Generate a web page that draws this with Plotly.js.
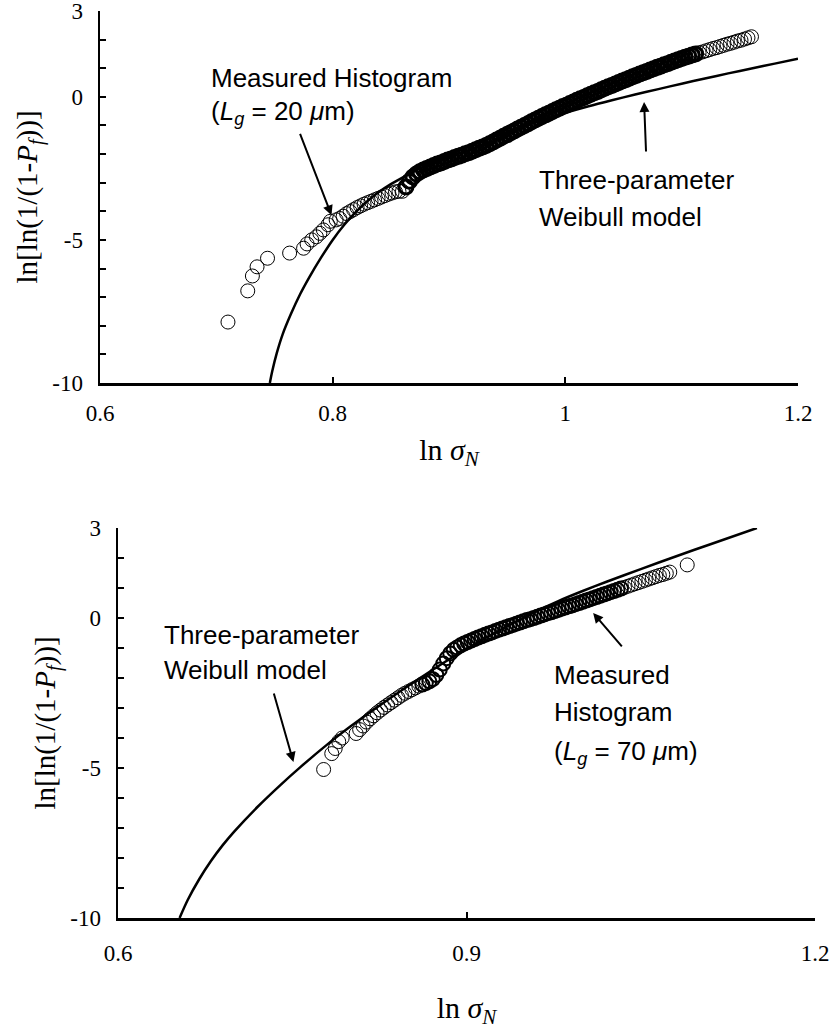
<!DOCTYPE html>
<html>
<head>
<meta charset="utf-8">
<script src="https://cdn.plot.ly/plotly-3.0.1.min.js"></script>
<style>html,body{margin:0;padding:0;background:#fff;}#chart{width:833px;height:1032px;}</style>
</head>
<body>
<div id="chart"></div>
<script>
// ---------- Top panel (Lg = 20 um) ----------
const topMeasuredX = [0.710,0.727,0.731,0.735,0.744,0.763,0.775,0.778,0.782,0.786,0.789,0.792,0.796,0.798,0.803,0.806,0.809,
0.812,0.815,0.818,0.821,0.824,0.827,0.830,0.833,0.836,0.839,0.842,0.845,0.848,0.851,0.854,0.857,0.860,0.863,0.866,0.869,
0.872,0.875,0.878,0.881,0.884,0.887,0.890,0.893,0.896,0.899,0.902,0.905,0.908,0.911,0.914,0.917,0.920,0.923,0.926,0.929,
0.932,0.935,0.938,0.941,0.944,0.947,0.950,0.953,0.956,0.959,0.962,0.965,0.968,0.971,0.974,0.977,0.980,0.983,0.986,0.989,
0.992,0.995,0.998,1.001,1.004,1.007,1.010,1.013,1.016,1.019,1.022,1.025,1.028,1.031,1.034,1.037,1.040,1.043,1.046,1.049,
1.052,1.055,1.058,1.061,1.064,1.067,1.070,1.073,1.076,1.079,1.082,1.085,1.088,1.091,1.094,1.097,1.100,1.103,1.106,1.109,
1.112,1.115,1.118,1.121,1.124,1.127,1.130,1.133,1.136,1.139,1.142,1.145,1.148,1.151,1.154,1.157,1.160];
const topMeasuredY = [-7.87,-6.78,-6.26,-5.94,-5.64,-5.46,-5.29,-5.14,-5.00,-4.89,-4.77,-4.65,-4.47,-4.35,-4.30,-4.25,-4.17,
-4.08,-4.01,-3.94,-3.87,-3.81,-3.75,-3.70,-3.65,-3.60,-3.55,-3.50,-3.45,-3.40,-3.36,-3.32,-3.30,-3.30,-3.15,-2.95,-2.80,
-2.70,-2.62,-2.56,-2.50,-2.45,-2.40,-2.35,-2.31,-2.26,-2.21,-2.17,-2.12,-2.08,-2.04,-1.99,-1.95,-1.90,-1.85,-1.80,-1.75,
-1.70,-1.64,-1.58,-1.51,-1.45,-1.38,-1.32,-1.25,-1.19,-1.12,-1.06,-1.00,-0.94,-0.87,-0.81,-0.75,-0.69,-0.63,-0.57,-0.51,
-0.45,-0.40,-0.34,-0.29,-0.23,-0.18,-0.12,-0.07,-0.02,0.04,0.09,0.14,0.19,0.25,0.30,0.35,0.40,0.45,0.50,0.55,
0.60,0.65,0.70,0.75,0.80,0.84,0.89,0.94,0.98,1.03,1.07,1.12,1.16,1.21,1.25,1.30,1.34,1.38,1.42,1.46,
1.50,1.54,1.57,1.61,1.65,1.69,1.72,1.76,1.80,1.84,1.87,1.91,1.95,1.98,2.02,2.06,2.10];
const topModelX = [0.746,0.748,0.752,0.757,0.764,0.772,0.780,0.790,0.800,0.810,0.820,0.830,0.840,0.850,0.860,0.880,0.900,
0.920,0.940,0.960,0.980,1.000,1.020,1.040,1.060,1.080,1.100,1.120,1.140,1.160,1.180,1.200];
const topModelY = [-10,-9.6,-8.95,-8.3,-7.6,-6.9,-6.3,-5.62,-5.0,-4.47,-4.02,-3.64,-3.32,-3.05,-2.82,-2.4,-2.02,
-1.68,-1.37,-1.08,-0.81,-0.56,-0.33,-0.12,0.08,0.27,0.46,0.64,0.82,0.99,1.16,1.33];
const topXTickVals = [0.6,0.8,1.0,1.2];
const topXTickText = ['0.6','0.8','1','1.2'];

// ---------- Bottom panel (Lg = 70 um) ----------
const botMeasuredX = [0.777,0.784,0.787,0.790,0.793,0.805,0.808,0.811,0.814,0.817,0.820,0.823,
0.826,0.829,0.832,0.835,0.838,0.841,0.844,0.847,0.850,0.853,0.856,0.859,0.862,0.865,0.868,0.871,0.874,0.877,0.880,0.883,
0.886,0.889,0.892,0.895,0.898,0.901,0.904,0.907,0.910,0.913,0.916,0.919,0.922,0.925,0.928,0.931,0.934,0.937,0.940,0.943,
0.946,0.949,0.952,0.955,0.958,0.961,0.964,0.967,0.970,0.973,0.976,0.979,0.982,0.985,0.988,0.991,0.994,0.997,1.000,1.003,
1.006,1.009,1.012,1.015,1.018,1.021,1.024,1.027,1.030,1.033,1.036,1.039,1.042,1.045,1.048,1.051,1.054,1.057,1.060,1.063,
1.066,1.069,1.072,1.075,1.090];
const botMeasuredY = [-5.05,-4.52,-4.35,-4.12,-4.00,-3.85,-3.72,-3.60,-3.47,-3.36,-3.26,-3.16,
-3.07,-2.98,-2.90,-2.82,-2.74,-2.66,-2.58,-2.51,-2.45,-2.39,-2.33,-2.27,-2.22,-2.17,-2.11,-2.04,-1.90,-1.72,-1.52,-1.34,
-1.18,-1.06,-0.98,-0.91,-0.85,-0.80,-0.75,-0.70,-0.65,-0.61,-0.56,-0.52,-0.48,-0.43,-0.39,-0.35,-0.31,-0.27,-0.23,-0.19,
-0.15,-0.11,-0.07,-0.04,0.00,0.04,0.08,0.12,0.16,0.19,0.23,0.27,0.31,0.35,0.39,0.42,0.46,0.50,0.54,0.58,
0.62,0.66,0.70,0.74,0.78,0.82,0.86,0.90,0.94,0.98,1.02,1.06,1.10,1.14,1.18,1.22,1.26,1.30,1.34,1.38,
1.42,1.45,1.49,1.53,1.77];
const botModelX = [0.653,0.660,0.670,0.680,0.690,0.700,0.720,0.740,0.757,0.780,0.800,0.820,0.850,0.880,0.900,0.930,0.960,
0.980,1.000,1.020,1.050,1.080,1.110,1.150];
const botModelY = [-10,-9.4,-8.7,-8.1,-7.58,-7.12,-6.3,-5.56,-4.97,-4.22,-3.62,-3.06,-2.26,-1.5,-1.03,-0.38,0.22,
0.58,0.9,1.2,1.63,2.05,2.46,3.0];
const botXTickVals = [0.6,0.9,1.2];
const botXTickText = ['0.6','0.9','1.2'];

// ---------- Shared y ticks ----------
const yTickVals = [-10,-5,0,3];
const yTickText = ['-10','-5','0','3'];

const serif = 'Liberation Serif, Times New Roman, serif';
const sans = 'Liberation Sans, Arial, sans-serif';

// ring stroke: heavier where the measured points crowd into a solid band
function ringWidths(xs, lo, hi, heavy) {
  return xs.map(v => (v >= lo && v <= hi) ? heavy : 1);
}
function markerStyle(widths) {
  return {symbol: 'circle-open', size: 14, color: '#000', line: {width: widths, color: '#000'}};
}
const lineStyle = {color: '#000', width: 2.5, shape: 'spline', smoothing: 0.8};

const traces = [
  {x: topMeasuredX, y: topMeasuredY, xaxis: 'x', yaxis: 'y', mode: 'markers', type: 'scatter',
   marker: markerStyle(ringWidths(topMeasuredX, 0.862, 1.113, 3)), name: 'Measured Histogram (Lg = 20 μm)'},
  {x: topModelX, y: topModelY, xaxis: 'x', yaxis: 'y', mode: 'lines', type: 'scatter', line: lineStyle, name: 'Three-parameter Weibull model'},
  {x: botMeasuredX, y: botMeasuredY, xaxis: 'x2', yaxis: 'y2', mode: 'markers', type: 'scatter',
   marker: markerStyle(ringWidths(botMeasuredX, 0.86, 1.035, 2)), name: 'Measured Histogram (Lg = 70 μm)'},
  {x: botModelX, y: botModelY, xaxis: 'x2', yaxis: 'y2', mode: 'lines', type: 'scatter', line: lineStyle, name: 'Three-parameter Weibull model'}
];

function xAxis(domain, anchor, vals, text, standoff, titleStandoff) {
  return {
    domain: domain, anchor: anchor, range: [0.6, 1.2],
    showline: true, linecolor: '#000', linewidth: 2.5, mirror: false,
    showgrid: false, zeroline: false,
    ticks: 'inside', ticklen: 6, tickwidth: 2, tickcolor: '#000',
    tickvals: vals, ticktext: text, ticklabelstandoff: standoff, ticklabeloverflow: 'allow',
    tickfont: {family: serif, size: 23, color: '#000'},
    title: {text: 'ln <i>σ</i><sub><i>N</i></sub>', font: {family: serif, size: 30, color: '#000'}, standoff: titleStandoff},
    automargin: false
  };
}
function yAxis(domain, anchor, titleStandoff) {
  return {
    domain: domain, anchor: anchor, range: [-10, 3],
    showline: true, linecolor: '#000', linewidth: 2.5, mirror: false,
    showgrid: false, zeroline: false,
    ticks: 'inside', ticklen: 6, tickwidth: 2, tickcolor: '#000',
    tickvals: yTickVals, ticktext: yTickText, ticklabelstandoff: 10, ticklabeloverflow: 'allow',
    minor: {tickmode: 'linear', tick0: 0, dtick: 1, ticks: 'inside', ticklen: 6, tickwidth: 2, tickcolor: '#000', showgrid: false},
    tickfont: {family: serif, size: 23, color: '#000'},
    title: {text: 'ln[ln(1/(1-<i>P</i><sub><i>f</i></sub>))]', font: {family: serif, size: 29, color: '#000'}, standoff: titleStandoff},
    automargin: false
  };
}

const annFont = {family: sans, size: 26, color: '#000'};
function txt(xref, yref, x, y, t) {
  return {xref: xref, yref: yref, x: x, y: y, text: t, showarrow: false, xanchor: 'left', yanchor: 'middle', font: annFont};
}
function arr(xref, yref, x, y, ax, ay) {
  return {xref: xref, yref: yref, x: x, y: y, ax: ax, ay: ay, text: '', showarrow: true,
          arrowhead: 2, arrowsize: 1, arrowwidth: 2, arrowcolor: '#000'};
}

const layout = {
  width: 833, height: 1032,
  margin: {l: 0, r: 0, t: 0, b: 0},
  paper_bgcolor: '#fff', plot_bgcolor: '#fff',
  showlegend: false,
  xaxis: xAxis([100/833, 798/833], 'y', topXTickVals, topXTickText, 8, 14),
  yaxis: yAxis([1 - 383/1032, 1 - 11/1032], 'x', 6),
  xaxis2: xAxis([118/833, 815/833], 'y2', botXTickVals, botXTickText, 13, 32),
  yaxis2: yAxis([1 - 918/1032, 1 - 528/1032], 'x2', 6),
  annotations: [
    txt('x', 'y', 0.694, 0.67, 'Measured Histogram'),
    txt('x', 'y', 0.694, -0.53, '(<i>L</i><sub><i>g</i></sub> = 20 <i>μ</i>m)'),
    arr('x', 'y', 0.799, -4.14, -32, -83),
    txt('x', 'y', 0.976, -2.91, 'Three-parameter'),
    txt('x', 'y', 0.976, -4.21, 'Weibull model'),
    arr('x', 'y', 1.0677, -0.18, 2, 51),
    txt('x2', 'y2', 0.638, -0.57, 'Three-parameter'),
    txt('x2', 'y2', 0.638, -1.73, 'Weibull model'),
    arr('x2', 'y2', 0.751, -4.8, -20, -70),
    txt('x2', 'y2', 0.974, -1.9, 'Measured'),
    txt('x2', 'y2', 0.974, -3.13, 'Histogram'),
    txt('x2', 'y2', 0.974, -4.47, '(<i>L</i><sub><i>g</i></sub> = 70 <i>μ</i>m)'),
    arr('x2', 'y2', 1.009, 0.17, 30, 35)
  ]
};

Plotly.newPlot('chart', traces, layout, {displayModeBar: false, staticPlot: true});
</script>
</body>
</html>
